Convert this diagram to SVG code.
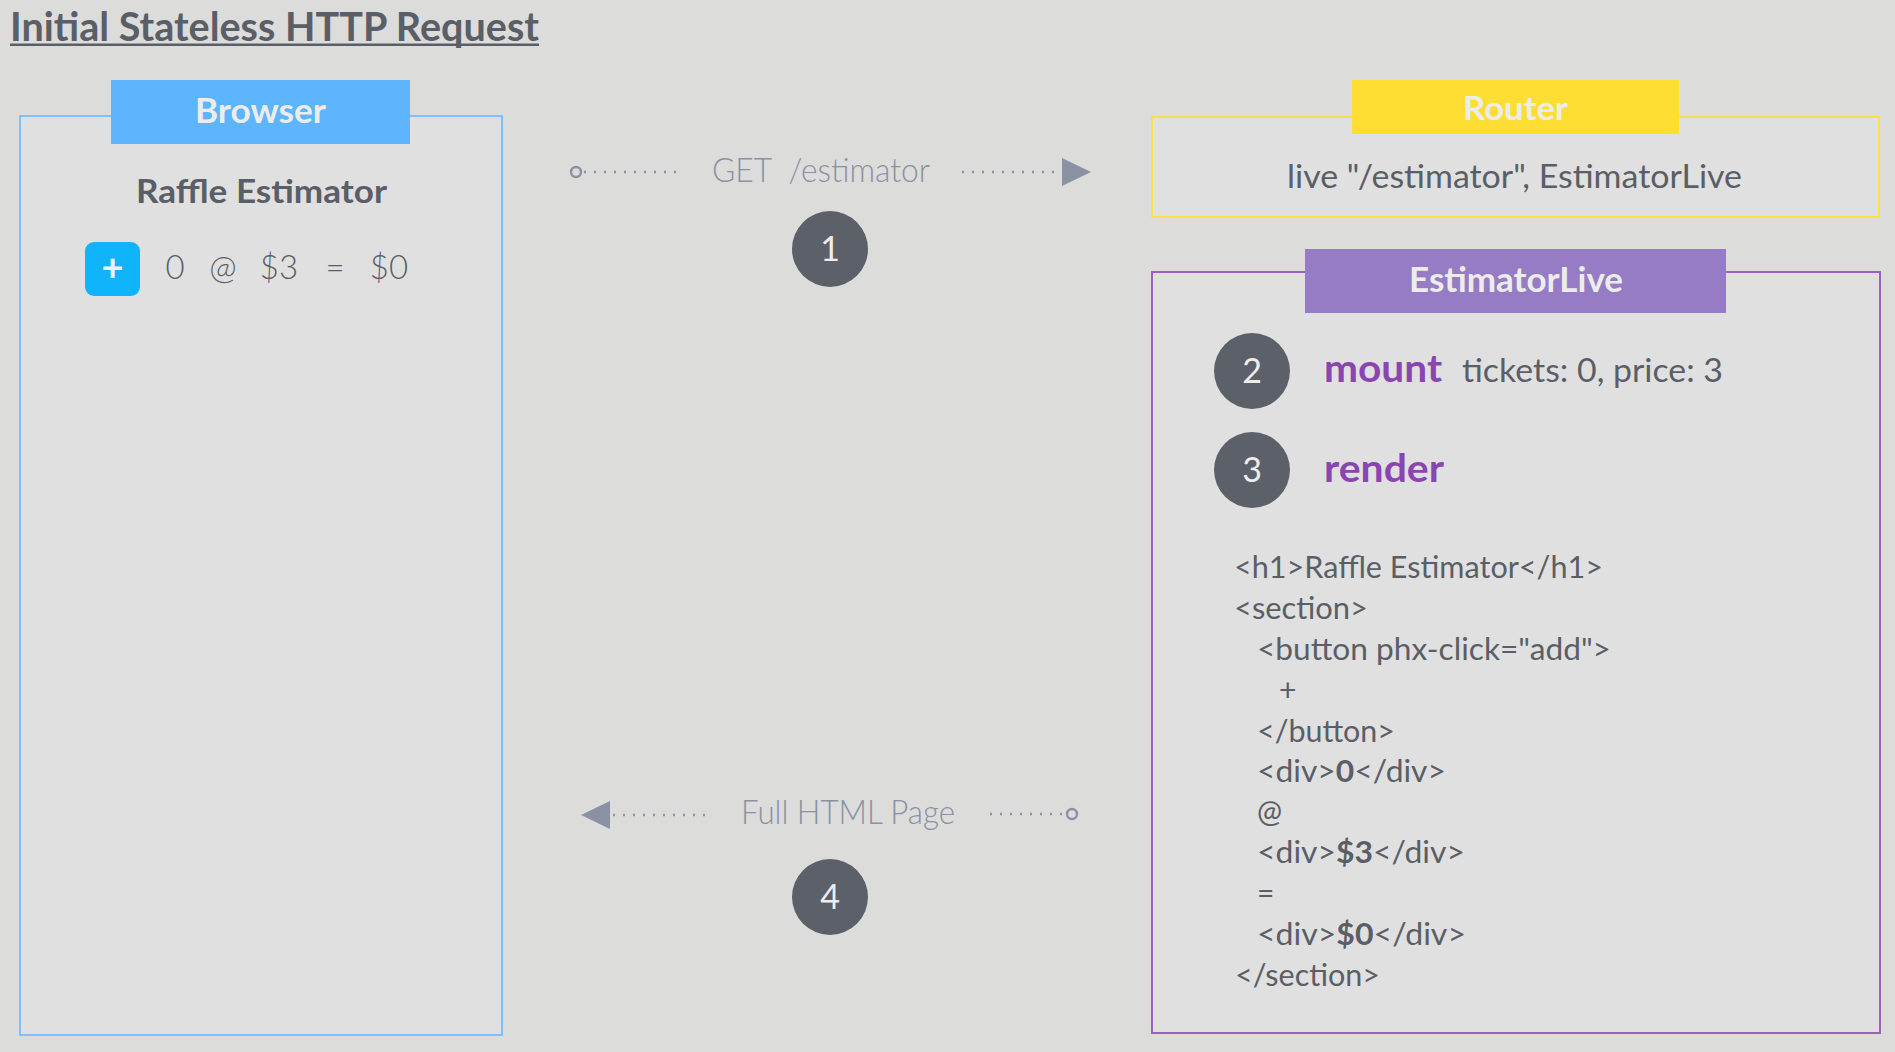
<svg xmlns="http://www.w3.org/2000/svg" width="1895" height="1052" viewBox="0 0 1895 1052">
<style>
text{font-family:Lato,"Open Sans","Liberation Sans",sans-serif}
.box{fill:#e0e0e0;stroke-width:2}
.dark{fill:#5a5e66}
.lt{font-weight:400}
.hdr{fill:#ececec;font-weight:bold;text-anchor:middle}
.step circle{fill:#5c6068}
.step text{fill:#ededed;font-size:34px;font-weight:400;text-anchor:middle}
.lbl{fill:#8a91a2;font-size:33px;font-weight:300;white-space:pre}
.dot{fill:none;stroke:#8a91a2;stroke-width:2.3;stroke-dasharray:2 8}
.end{fill:none;stroke:#8a91a2;stroke-width:2.4}
.code{fill:#5a5e66;font-size:30px;font-weight:400}
.kw{fill:#8a45b2;font-weight:bold;font-size:39px}
.num{fill:#5a5e66;font-size:33px;font-weight:300;text-anchor:middle}
</style>
<defs>
<marker id="arrow" markerUnits="userSpaceOnUse" markerWidth="30" markerHeight="28" viewBox="0 0 30 28" refX="0" refY="14" orient="auto">
<path d="M0,0 L29,14 L0,28 z" fill="#8a91a2"/>
</marker>
</defs>
<rect x="0" y="0" width="1895" height="1052" fill="#dcdcda"/>

<g id="title">
<text x="10" y="41" font-size="40" font-weight="bold" class="dark" textLength="529" lengthAdjust="spacingAndGlyphs">Initial Stateless HTTP Request</text>
<rect x="10" y="43.5" width="529" height="2.5" fill="#5a5e66"/>
</g>

<g id="browser">
<rect class="box" x="20" y="116" width="482" height="919" stroke="#80c0fa"/>
<rect x="111" y="80" width="299" height="64" fill="#5cb5fd"/>
<text class="hdr" x="260.5" y="123" font-size="34" textLength="131" lengthAdjust="spacingAndGlyphs">Browser</text>
<text x="261.5" y="203" font-size="32" font-weight="bold" class="dark" text-anchor="middle" textLength="251" lengthAdjust="spacingAndGlyphs">Raffle Estimator</text>
<rect x="85" y="242" width="55" height="54" rx="9" fill="#10b4fb"/>
<text x="112.5" y="281" font-size="38" font-weight="bold" fill="#f2f2f2" text-anchor="middle">+</text>
<text class="num" x="175" y="279">0</text>
<text class="num" x="223" y="279">@</text>
<text class="num" x="279" y="279">$3</text>
<text class="num" x="335" y="279">=</text>
<text class="num" x="389" y="279">$0</text>
</g>

<g id="router">
<rect class="box" x="1152" y="117" width="727" height="100" stroke="#fbe04a"/>
<rect x="1352" y="80" width="327" height="54" fill="#ffde33"/>
<text class="hdr" x="1515.5" y="120" font-size="33" textLength="105" lengthAdjust="spacingAndGlyphs">Router</text>
<text x="1514.5" y="188" font-size="32" class="dark lt" text-anchor="middle" textLength="455" lengthAdjust="spacingAndGlyphs">live "/estimator", EstimatorLive</text>
</g>

<g id="estimatorlive">
<rect class="box" x="1152" y="272" width="728" height="761" stroke="#9a60c2"/>
<rect x="1305" y="249" width="421" height="64" fill="#967cc4"/>
<text class="hdr" x="1516" y="292" font-size="34" textLength="214" lengthAdjust="spacingAndGlyphs">EstimatorLive</text>
<text class="kw" x="1324" y="382" textLength="118" lengthAdjust="spacingAndGlyphs">mount</text>
<text x="1462" y="382" font-size="33" class="dark lt" textLength="261" lengthAdjust="spacingAndGlyphs">tickets: 0, price: 3</text>
<text class="kw" x="1324" y="482" textLength="120" lengthAdjust="spacingAndGlyphs">render</text>
<text class="code" x="1234" y="578" textLength="369" lengthAdjust="spacingAndGlyphs">&lt;h1&gt;Raffle Estimator&lt;/h1&gt;</text>
<text class="code" x="1234" y="619" textLength="134" lengthAdjust="spacingAndGlyphs">&lt;section&gt;</text>
<text class="code" x="1257" y="660" textLength="354" lengthAdjust="spacingAndGlyphs">&lt;button phx-click="add"&gt;</text>
<text class="code" x="1279" y="701">+</text>
<text class="code" x="1257" y="742" textLength="138" lengthAdjust="spacingAndGlyphs">&lt;/button&gt;</text>
<text class="code" x="1257" y="782" textLength="189" lengthAdjust="spacingAndGlyphs">&lt;div&gt;<tspan font-weight="bold">0</tspan>&lt;/div&gt;</text>
<text class="code" x="1257" y="822">@</text>
<text class="code" x="1257" y="863" textLength="208" lengthAdjust="spacingAndGlyphs">&lt;div&gt;<tspan font-weight="bold">$3</tspan>&lt;/div&gt;</text>
<text class="code" x="1257" y="904">=</text>
<text class="code" x="1257" y="945" textLength="209" lengthAdjust="spacingAndGlyphs">&lt;div&gt;<tspan font-weight="bold">$0</tspan>&lt;/div&gt;</text>
<text class="code" x="1235" y="986" textLength="145" lengthAdjust="spacingAndGlyphs">&lt;/section&gt;</text>
</g>

<g id="steps">
<g class="step" id="step1"><circle cx="830" cy="249" r="38"/><text x="830" y="261">1</text></g>
<g class="step" id="step2"><circle cx="1252" cy="371" r="38"/><text x="1252" y="383">2</text></g>
<g class="step" id="step3"><circle cx="1252" cy="470" r="38"/><text x="1252" y="482">3</text></g>
<g class="step" id="step4"><circle cx="830" cy="897" r="38"/><text x="830" y="909">4</text></g>
</g>

<g id="connectors">
<circle class="end" cx="576" cy="172" r="5"/>
<path class="dot" d="M584,172 H681"/>
<text class="lbl" x="712" y="182" textLength="218" lengthAdjust="spacingAndGlyphs" xml:space="preserve">GET  /estimator</text>
<path class="dot" d="M962,172 H1062" marker-end="url(#arrow)"/>
<path class="dot" d="M705,815 H610" marker-end="url(#arrow)"/>
<text class="lbl" x="741" y="824" textLength="214" lengthAdjust="spacingAndGlyphs">Full HTML Page</text>
<path class="dot" d="M990,814 H1065"/>
<circle class="end" cx="1072" cy="814" r="5"/>
</g>
</svg>
